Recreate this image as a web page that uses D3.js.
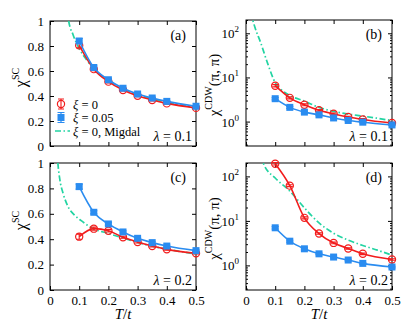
<!DOCTYPE html>
<html>
<head>
<meta charset="utf-8">
<script src="https://cdn.jsdelivr.net/npm/d3@7"></script>
<style>
  body { margin: 0; background: #fff; }
  text { font-family: "Liberation Serif", "DejaVu Serif", serif; }
</style>
</head>
<body>
<div id="chart"></div>
<script>
// Temperatures of the DQMC points
const T = [0.1, 0.15, 0.2, 0.25, 0.3, 0.35, 0.4, 0.5];
const xTicks = [0, 0.1, 0.2, 0.3, 0.4, 0.5];
const scTicks = [0, 0.2, 0.4, 0.6, 0.8, 1];
const logTicks = [1, 10, 100];

// (a) chi SC, lambda = 0.1
const scA_xi0 = [0.805, 0.615, 0.515, 0.448, 0.402, 0.368, 0.341, 0.305];
const scA_xi005 = [0.84, 0.628, 0.53, 0.462, 0.416, 0.384, 0.357, 0.318];
const migA_T = [0.058, 0.064, 0.079, 0.1, 0.125, 0.15, 0.2, 0.25, 0.3, 0.35, 0.4, 0.45, 0.5];
const migA = [1.1, 1.0, 0.89, 0.78, 0.69, 0.615, 0.525, 0.455, 0.41, 0.376, 0.35, 0.327, 0.307];

// (b) chi CDW, lambda = 0.1
const cdwB_xi0 = [6.5, 3.45, 2.4, 1.8, 1.5, 1.27, 1.12, 0.93];
const cdwB_xi005 = [3.3, 2.1, 1.64, 1.42, 1.21, 1.06, 0.97, 0.84];
const migB_T = [0.016, 0.03, 0.05, 0.075, 0.1, 0.125, 0.15, 0.2, 0.25, 0.3, 0.35, 0.4, 0.45, 0.5];
const migB = [300, 140, 62, 20, 7.6, 5.0, 3.9, 2.9, 2.1, 1.7, 1.48, 1.33, 1.19, 1.05];

// (c) chi SC, lambda = 0.2
const scC_xi0 = [0.42, 0.483, 0.467, 0.415, 0.378, 0.346, 0.32, 0.289];
const scC_xi005 = [0.814, 0.612, 0.52, 0.457, 0.407, 0.373, 0.346, 0.31];
const migC_T = [0.024, 0.027, 0.033, 0.045, 0.062, 0.084, 0.107, 0.142, 0.2, 0.25, 0.3, 0.35, 0.4, 0.45, 0.5];
const migC = [1.1, 1.0, 0.88, 0.76, 0.656, 0.59, 0.546, 0.49, 0.445, 0.41, 0.375, 0.345, 0.322, 0.302, 0.284];

// (d) chi CDW, lambda = 0.2
const cdwD_xi0 = [192, 62, 11.7, 5.2, 3.2, 2.4, 1.82, 1.36];
const cdwD_xi005 = [7.0, 3.5, 2.36, 1.82, 1.54, 1.32, 1.11, 0.92];
const migD_T = [0.05, 0.06, 0.1, 0.15, 0.2, 0.25, 0.3, 0.35, 0.4, 0.45, 0.5];
const migD = [300, 192, 92, 47, 19.6, 9.0, 5.3, 3.7, 2.8, 2.2, 1.7];

// error bars (relative for log panels, absolute for linear)
const errSC = [0.02, 0.012, 0.01, 0.008, 0.008, 0.007, 0.007, 0.006];
const errCDW = [0.06, 0.05, 0.05, 0.04, 0.04, 0.04, 0.04, 0.04];

const red = "#f21c1c", blue = "#2a8cf0", green = "#22d4a2";

const svg = d3.select("#chart").append("svg")
    .attr("width", 415).attr("height", 333);

const panels = [
  { id: "a", x0: 50, x1: 196, y0: 21, y1: 146, log: false, xlab: false,
    r0: scA_xi0, r1: scA_xi005, mT: migA_T, m: migA, lam: "0.1", legend: true },
  { id: "b", x0: 246, x1: 392, y0: 20, y1: 146, log: true, xlab: false,
    r0: cdwB_xi0, r1: cdwB_xi005, mT: migB_T, m: migB, lam: "0.1" },
  { id: "c", x0: 50, x1: 196, y0: 163, y1: 290, log: false, xlab: true,
    r0: scC_xi0, r1: scC_xi005, mT: migC_T, m: migC, lam: "0.2" },
  { id: "d", x0: 246, x1: 392, y0: 163, y1: 290, log: true, xlab: true,
    r0: cdwD_xi0, r1: cdwD_xi005, mT: migD_T, m: migD, lam: "0.2" }
];

panels.forEach(drawPanel);

function drawPanel(p) {
  const g = svg.append("g");
  const x = d3.scaleLinear().domain([0, 0.5]).range([p.x0, p.x1]);
  const y = p.log
    ? d3.scaleLog().domain([0.28, 200]).range([p.y1, p.y0])
    : d3.scaleLinear().domain([0, 1]).range([p.y1, p.y0]);

  g.append("clipPath").attr("id", "clip" + p.id)
    .append("rect")
    .attr("x", p.x0).attr("y", p.y0)
    .attr("width", p.x1 - p.x0).attr("height", p.y1 - p.y0);

  // ticks on all four sides, pointing inward
  const yMajor = p.log ? logTicks : scTicks;
  const addAxis = (axis, tr) => {
    const a = g.append("g").attr("transform", tr).call(axis);
    a.select(".domain").remove();
    a.selectAll("line").attr("stroke", "#000");
    a.selectAll("text").attr("font-size", 13).attr("fill", "#000")
      .style("font-family", '"Liberation Serif", serif');
    return a;
  };
  addAxis(d3.axisBottom(x).tickValues(xTicks).tickSize(-4).tickPadding(6)
    .tickFormat(p.xlab ? d3.format("") : ""), `translate(0,${p.y1})`);
  addAxis(d3.axisTop(x).tickValues(xTicks).tickSize(-4).tickFormat(""), `translate(0,${p.y0})`);
  addAxis(d3.axisLeft(y).tickValues(yMajor).tickSize(-4).tickPadding(6)
    .tickFormat(p.log ? "" : d3.format("")), `translate(${p.x0},0)`);
  addAxis(d3.axisRight(y).tickValues(yMajor).tickSize(-4).tickFormat(""), `translate(${p.x1},0)`);

  if (p.log) {
    const minor = [];
    [0.1, 1, 10, 100].forEach(dec => {
      for (let k = 2; k <= 9; k++) {
        const v = dec * k;
        if (v >= 0.28 && v <= 200) minor.push(v);
      }
    });
    addAxis(d3.axisLeft(y).tickValues(minor).tickSize(-2).tickFormat(""), `translate(${p.x0},0)`);
    addAxis(d3.axisRight(y).tickValues(minor).tickSize(-2).tickFormat(""), `translate(${p.x1},0)`);
    logTicks.forEach((v, i) => {
      const t = g.append("text").attr("x", p.x0 - 7).attr("y", y(v) + 5)
        .attr("text-anchor", "end").attr("font-size", 13);
      t.append("tspan").text("10");
      t.append("tspan").attr("dy", -6).attr("font-size", 9).text(i);
    });
  }

  // frame
  g.append("rect").attr("x", p.x0).attr("y", p.y0)
    .attr("width", p.x1 - p.x0).attr("height", p.y1 - p.y0)
    .attr("fill", "none").attr("stroke", "#000").attr("stroke-width", 1);

  // Migdal curve
  const mig = d3.line().x((d, i) => x(p.mT[i])).y(d => y(d)).curve(d3.curveMonotoneX);
  g.append("path").datum(p.m).attr("d", mig)
    .attr("clip-path", `url(#clip${p.id})`)
    .attr("fill", "none").attr("stroke", green).attr("stroke-width", 1.7)
    .attr("stroke-dasharray", "6,2.5,1.5,2.5");

  const line = d3.line().x((d, i) => x(T[i])).y(d => y(d)).curve(d3.curveMonotoneX);
  const err = (v, i) => p.log ? [v * (1 - errCDW[i]), v * (1 + errCDW[i])] : [v - errSC[i], v + errSC[i]];

  // xi = 0 series (red open circles)
  g.append("path").datum(p.r0).attr("d", line)
    .attr("fill", "none").attr("stroke", red).attr("stroke-width", 1.6);
  p.r0.forEach((v, i) => {
    const [lo, hi] = err(v, i);
    g.append("path")
      .attr("d", `M${x(T[i]) - 3},${y(lo)}H${x(T[i]) + 3}M${x(T[i])},${y(lo)}V${y(hi)}M${x(T[i]) - 3},${y(hi)}H${x(T[i]) + 3}`)
      .attr("stroke", red).attr("stroke-width", 1.1).attr("fill", "none");
    g.append("circle").attr("cx", x(T[i])).attr("cy", y(v)).attr("r", 3.6)
      .attr("fill", "none").attr("stroke", red).attr("stroke-width", 1.2);
  });

  // xi = 0.05 series (blue squares)
  g.append("path").datum(p.r1).attr("d", line)
    .attr("fill", "none").attr("stroke", blue).attr("stroke-width", 1.6);
  p.r1.forEach((v, i) => {
    const [lo, hi] = err(v, i);
    g.append("path")
      .attr("d", `M${x(T[i]) - 3.5},${y(lo)}H${x(T[i]) + 3.5}M${x(T[i])},${y(lo)}V${y(hi)}M${x(T[i]) - 3.5},${y(hi)}H${x(T[i]) + 3.5}`)
      .attr("stroke", blue).attr("stroke-width", 1.2).attr("fill", "none");
    g.append("rect").attr("x", x(T[i]) - 3.5).attr("y", y(v) - 3.5)
      .attr("width", 7).attr("height", 7).attr("fill", blue);
  });

  // panel label and lambda
  g.append("text").attr("x", p.x1 - 10).attr("y", p.y0 + 19)
    .attr("text-anchor", "end").attr("font-size", 14).text(`(${p.id})`);
  const lt = g.append("text").attr("x", p.x1 - 4).attr("y", p.y1 - 5)
    .attr("text-anchor", "end").attr("font-size", 14);
  lt.append("tspan").attr("font-style", "italic").text("λ");
  lt.append("tspan").text(" = " + p.lam);

  // axis titles
  const cy = (p.y0 + p.y1) / 2;
  if (!p.log) {
    const yl = g.append("text")
      .attr("transform", `translate(${p.x0 - 24},${cy - 6}) rotate(-90)`)
      .attr("text-anchor", "middle").attr("font-size", 16);
    yl.append("tspan").text("χ");
    yl.append("tspan").attr("dy", -7).attr("font-size", 10).text("SC");
  } else {
    const yl = g.append("text")
      .attr("transform", `translate(${p.x0 - 27},${cy + 2}) rotate(-90)`)
      .attr("text-anchor", "middle").attr("font-size", 15);
    yl.append("tspan").text("χ");
    yl.append("tspan").attr("dy", -7).attr("font-size", 10).text("CDW");
    yl.append("tspan").attr("dy", 7).text("(π, π)");
  }
  if (p.xlab) {
    const xl = g.append("text").attr("x", (p.x0 + p.x1) / 2).attr("y", 319)
      .attr("text-anchor", "middle").attr("font-size", 15);
    xl.append("tspan").attr("font-style", "italic").text("T");
    xl.append("tspan").text("/");
    xl.append("tspan").attr("font-style", "italic").text("t");
  }

  // legend
  if (p.legend) {
    const lg = g.append("g");
    const rows = [
      { y: 104, label: "0" },
      { y: 117.5, label: "0.05" },
      { y: 131, label: "0, Migdal" }
    ];
    // red entry
    lg.append("path").attr("d", "M58,99H64M61,99V109M58,109H64")
      .attr("stroke", red).attr("stroke-width", 1.1);
    lg.append("circle").attr("cx", 61).attr("cy", 104).attr("r", 3.6)
      .attr("fill", "none").attr("stroke", red).attr("stroke-width", 1.2);
    // blue entry
    lg.append("path").attr("d", "M57.5,112.5H64.5M61,112.5V122.5M57.5,122.5H64.5")
      .attr("stroke", blue).attr("stroke-width", 1.2);
    lg.append("rect").attr("x", 57.5).attr("y", 114).attr("width", 7).attr("height", 7).attr("fill", blue);
    // green entry
    lg.append("path").attr("d", "M55,131H70")
      .attr("stroke", green).attr("stroke-width", 1.7).attr("stroke-dasharray", "6,2.5,1.5,2.5");
    rows.forEach(r => {
      const t = lg.append("text").attr("x", 73).attr("y", r.y + 4.5).attr("font-size", 12.5);
      t.append("tspan").attr("font-style", "italic").text("ξ");
      t.append("tspan").text(" = " + r.label);
    });
  }
}
</script>
</body>
</html>
